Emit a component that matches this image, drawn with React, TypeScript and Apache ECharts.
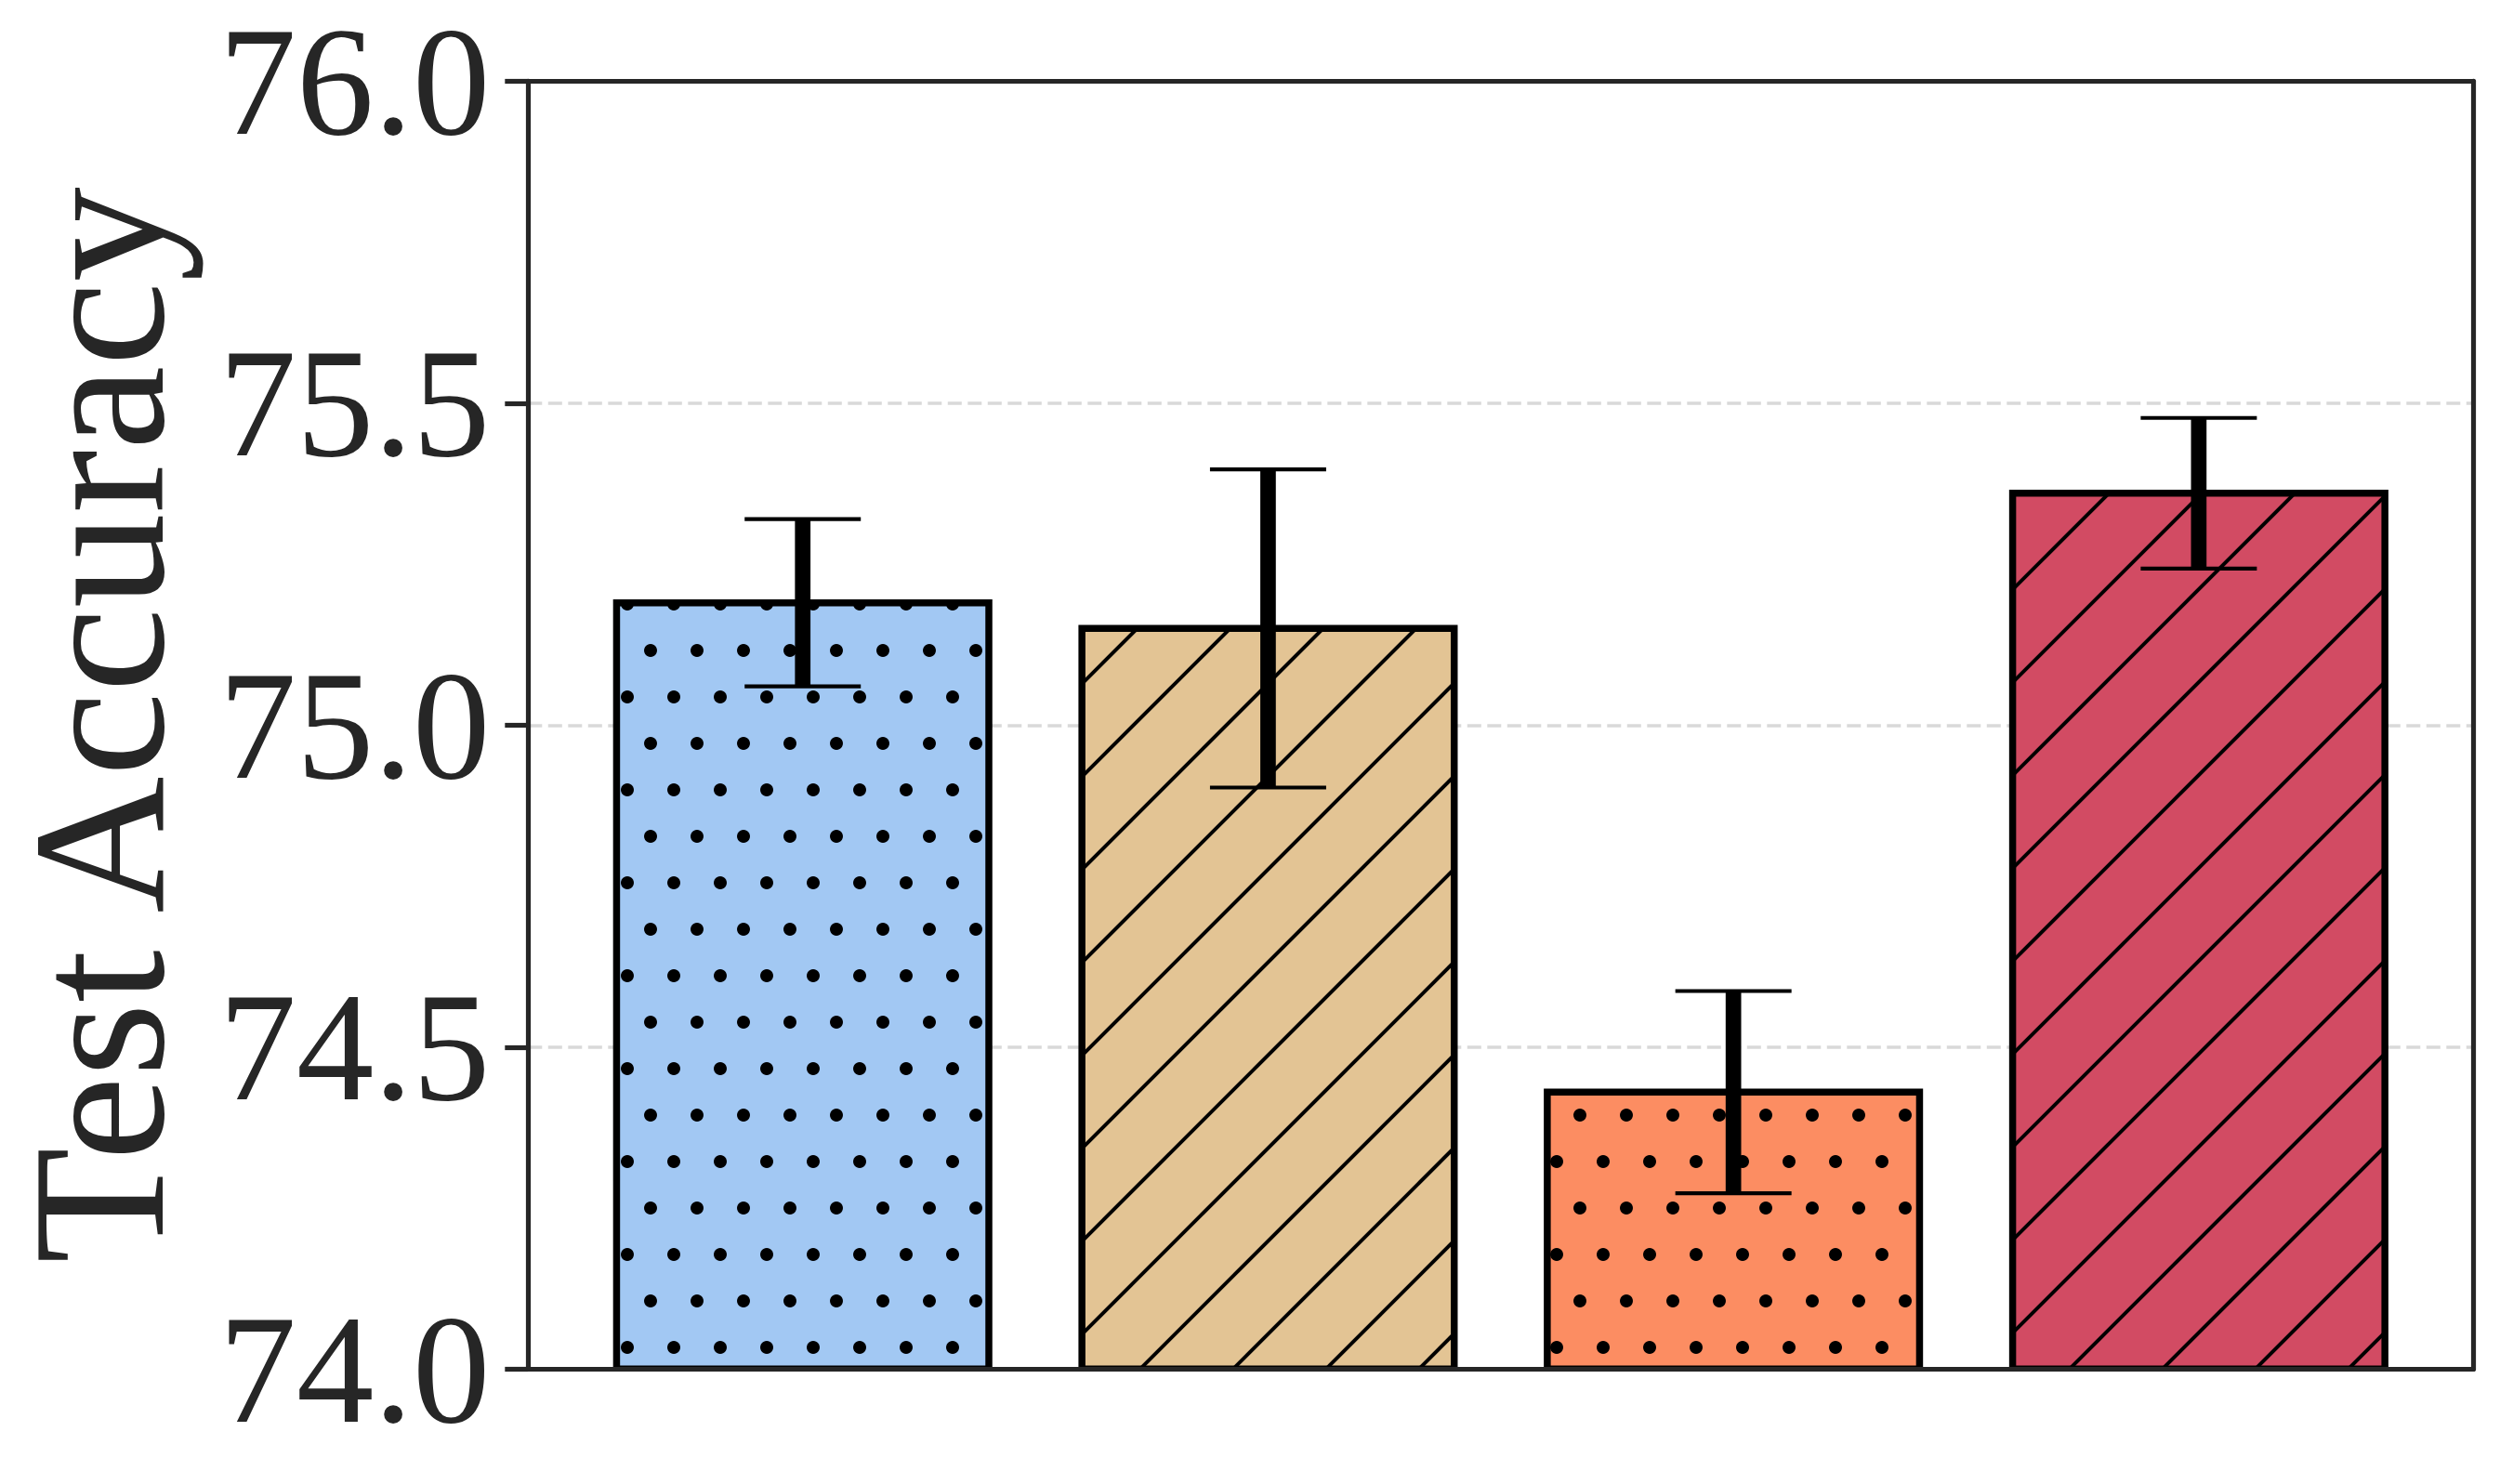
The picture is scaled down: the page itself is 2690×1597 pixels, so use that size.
import React, { useEffect, useRef } from "react";
import * as echarts from "echarts";

// ---- data ----
const barPositions = [0, 1, 2, 3];
const meanAccuracy = [75.19, 75.15, 74.43, 75.36];
const stdAccuracy = [0.13, 0.247, 0.157, 0.117];
const barColors = ["#A2C8F3", "#E3C494", "#FC8D62", "#D24B63"];
const barHatches = [".", "/", ".", "/"];
const yTicks = [74.0, 74.5, 75.0, 75.5, 76.0];
const yLabel = "Test Accuracy";

const Y_MIN = 74.0;
const Y_MAX = 76.0;
const X_MIN = -0.59;
const X_MAX = 3.59;
const BAR_WIDTH = 0.8;

const W = 2690;
const H = 1597;
const FONT = "Liberation Serif, serif";
const INK = "#262626";

export default function App() {
  const ref = useRef<HTMLDivElement>(null);

  useEffect(() => {
    if (!ref.current) return;
    const chart = echarts.init(ref.current, undefined, { renderer: "svg" });

    const data = barPositions.map((p, i) => [p, meanAccuracy[i], stdAccuracy[i]]);

    const renderItem = (params: any, api: any) => {
      const idx = params.dataIndex;
      const x = api.value(0) as number;
      const v = api.value(1) as number;
      const e = api.value(2) as number;
      const top = api.coord([x, v]);
      const base = api.coord([x, Y_MIN]);
      const cx = top[0];
      const yTop = top[1];
      const yBase = base[1];
      const w = api.size([BAR_WIDTH, 0])[0];
      const x0 = cx - w / 2;
      const x1 = cx + w / 2;
      const rectShape = { x: x0, y: yTop, width: w, height: yBase - yTop };

      const children: any[] = [];
      children.push({ type: "rect", shape: rectShape, style: { fill: barColors[idx] } });

      const texture: any[] = [];
      if (barHatches[idx] === "/") {
        const step = 100;
        const start = Math.floor((x0 + yTop) / step) * step;
        for (let c = start; c <= x1 + yBase + step; c += step) {
          const xa = Math.max(x0, c - yBase);
          const xb = Math.min(x1, c - yTop);
          if (xb > xa) {
            texture.push({
              type: "line",
              shape: { x1: xa, y1: c - xa, x2: xb, y2: c - xb },
              style: { stroke: "#000", lineWidth: 4 },
            });
          }
        }
      } else {
        const step = 50;
        for (let y = Math.floor(yTop / step) * step; y <= yBase + step; y += step) {
          const off = Math.round(y) % 100 === 0 ? 0 : 25;
          for (let xx = Math.floor(x0 / step) * step + off - step; xx <= x1 + step; xx += step) {
            if (xx < x0 - 8 || xx > x1 + 8 || y < yTop - 8 || y > yBase + 8) continue;
            texture.push({
              type: "circle",
              shape: { cx: xx, cy: y, r: 7 },
              style: { fill: "#000" },
            });
          }
        }
      }
      children.push({
        type: "group",
        children: texture,
        clipPath: { type: "rect", shape: rectShape },
      });
      children.push({
        type: "rect",
        shape: rectShape,
        style: { fill: "none", stroke: "#000", lineWidth: 7.5 },
      });

      const hi = api.coord([x, v + e])[1];
      const lo = api.coord([x, v - e])[1];
      const capHalf = 62.5;
      children.push({
        type: "line",
        shape: { x1: cx, y1: hi, x2: cx, y2: lo },
        style: { stroke: "#000", lineWidth: 16.7 },
      });
      children.push({
        type: "line",
        shape: { x1: cx - capHalf, y1: hi, x2: cx + capHalf, y2: hi },
        style: { stroke: "#000", lineWidth: 4.2 },
      });
      children.push({
        type: "line",
        shape: { x1: cx - capHalf, y1: lo, x2: cx + capHalf, y2: lo },
        style: { stroke: "#000", lineWidth: 4.2 },
      });

      return { type: "group", children };
    };

    const gridLeft = 568.3;
    const gridTop = 87.3;
    const gridRight = W - 2661.3;
    const gridBottom = H - 1473.3;

    chart.setOption({
      animation: false,
      backgroundColor: "#ffffff",
      grid: { left: gridLeft, top: gridTop, right: gridRight, bottom: gridBottom, containLabel: false },
      xAxis: [
        {
          type: "value",
          min: X_MIN,
          max: X_MAX,
          position: "bottom",
          z: 10,
          axisLine: { show: true, onZero: false, lineStyle: { color: INK, width: 5.2 } },
          axisTick: { show: false },
          axisLabel: { show: false },
          splitLine: { show: false },
        },
        {
          type: "value",
          min: X_MIN,
          max: X_MAX,
          position: "top",
          z: 10,
          axisLine: { show: true, onZero: false, lineStyle: { color: INK, width: 5.2 } },
          axisTick: { show: false },
          axisLabel: { show: false },
          splitLine: { show: false },
        },
      ],
      yAxis: [
        {
          type: "value",
          min: Y_MIN,
          max: Y_MAX,
          interval: 0.5,
          position: "left",
          axisLine: { show: true, onZero: false, lineStyle: { color: INK, width: 5.2 } },
          axisTick: { show: true, inside: false, length: 25, lineStyle: { color: INK, width: 5.2 } },
          axisLabel: {
            show: true,
            margin: 41,
            fontSize: 166.7,
            fontFamily: FONT,
            color: INK,
            padding: [8, 0, 0, 0],
            formatter: (val: number) => {
              const t = yTicks.find((tk) => Math.abs(tk - val) < 1e-6);
              return t === undefined ? "" : t.toFixed(1);
            },
          },
          splitLine: {
            show: true,
            lineStyle: { color: "#d9d9d9", width: 3.5, type: [15, 6.5] },
          },
        },
        {
          type: "value",
          min: Y_MIN,
          max: Y_MAX,
          position: "right",
          axisLine: { show: true, onZero: false, lineStyle: { color: INK, width: 5.2 } },
          axisTick: { show: false },
          axisLabel: { show: false },
          splitLine: { show: false },
        },
      ],
      graphic: [
        {
          type: "text",
          x: 106,
          y: (gridTop + (H - gridBottom)) / 2,
          rotation: Math.PI / 2,
          style: {
            text: yLabel,
            font: `204px ${FONT}`,
            fill: INK,
            textAlign: "center",
            textVerticalAlign: "middle",
          },
        },
      ],
      series: [
        {
          type: "custom",
          xAxisIndex: 0,
          yAxisIndex: 0,
          clip: true,
          renderItem,
          data,
          z: 2,
        },
      ],
    });

    return () => chart.dispose();
  }, []);

  return (
    <div
      ref={ref}
      style={{ position: "fixed", left: 0, top: 0, width: W, height: H, background: "#fff" }}
    />
  );
}
